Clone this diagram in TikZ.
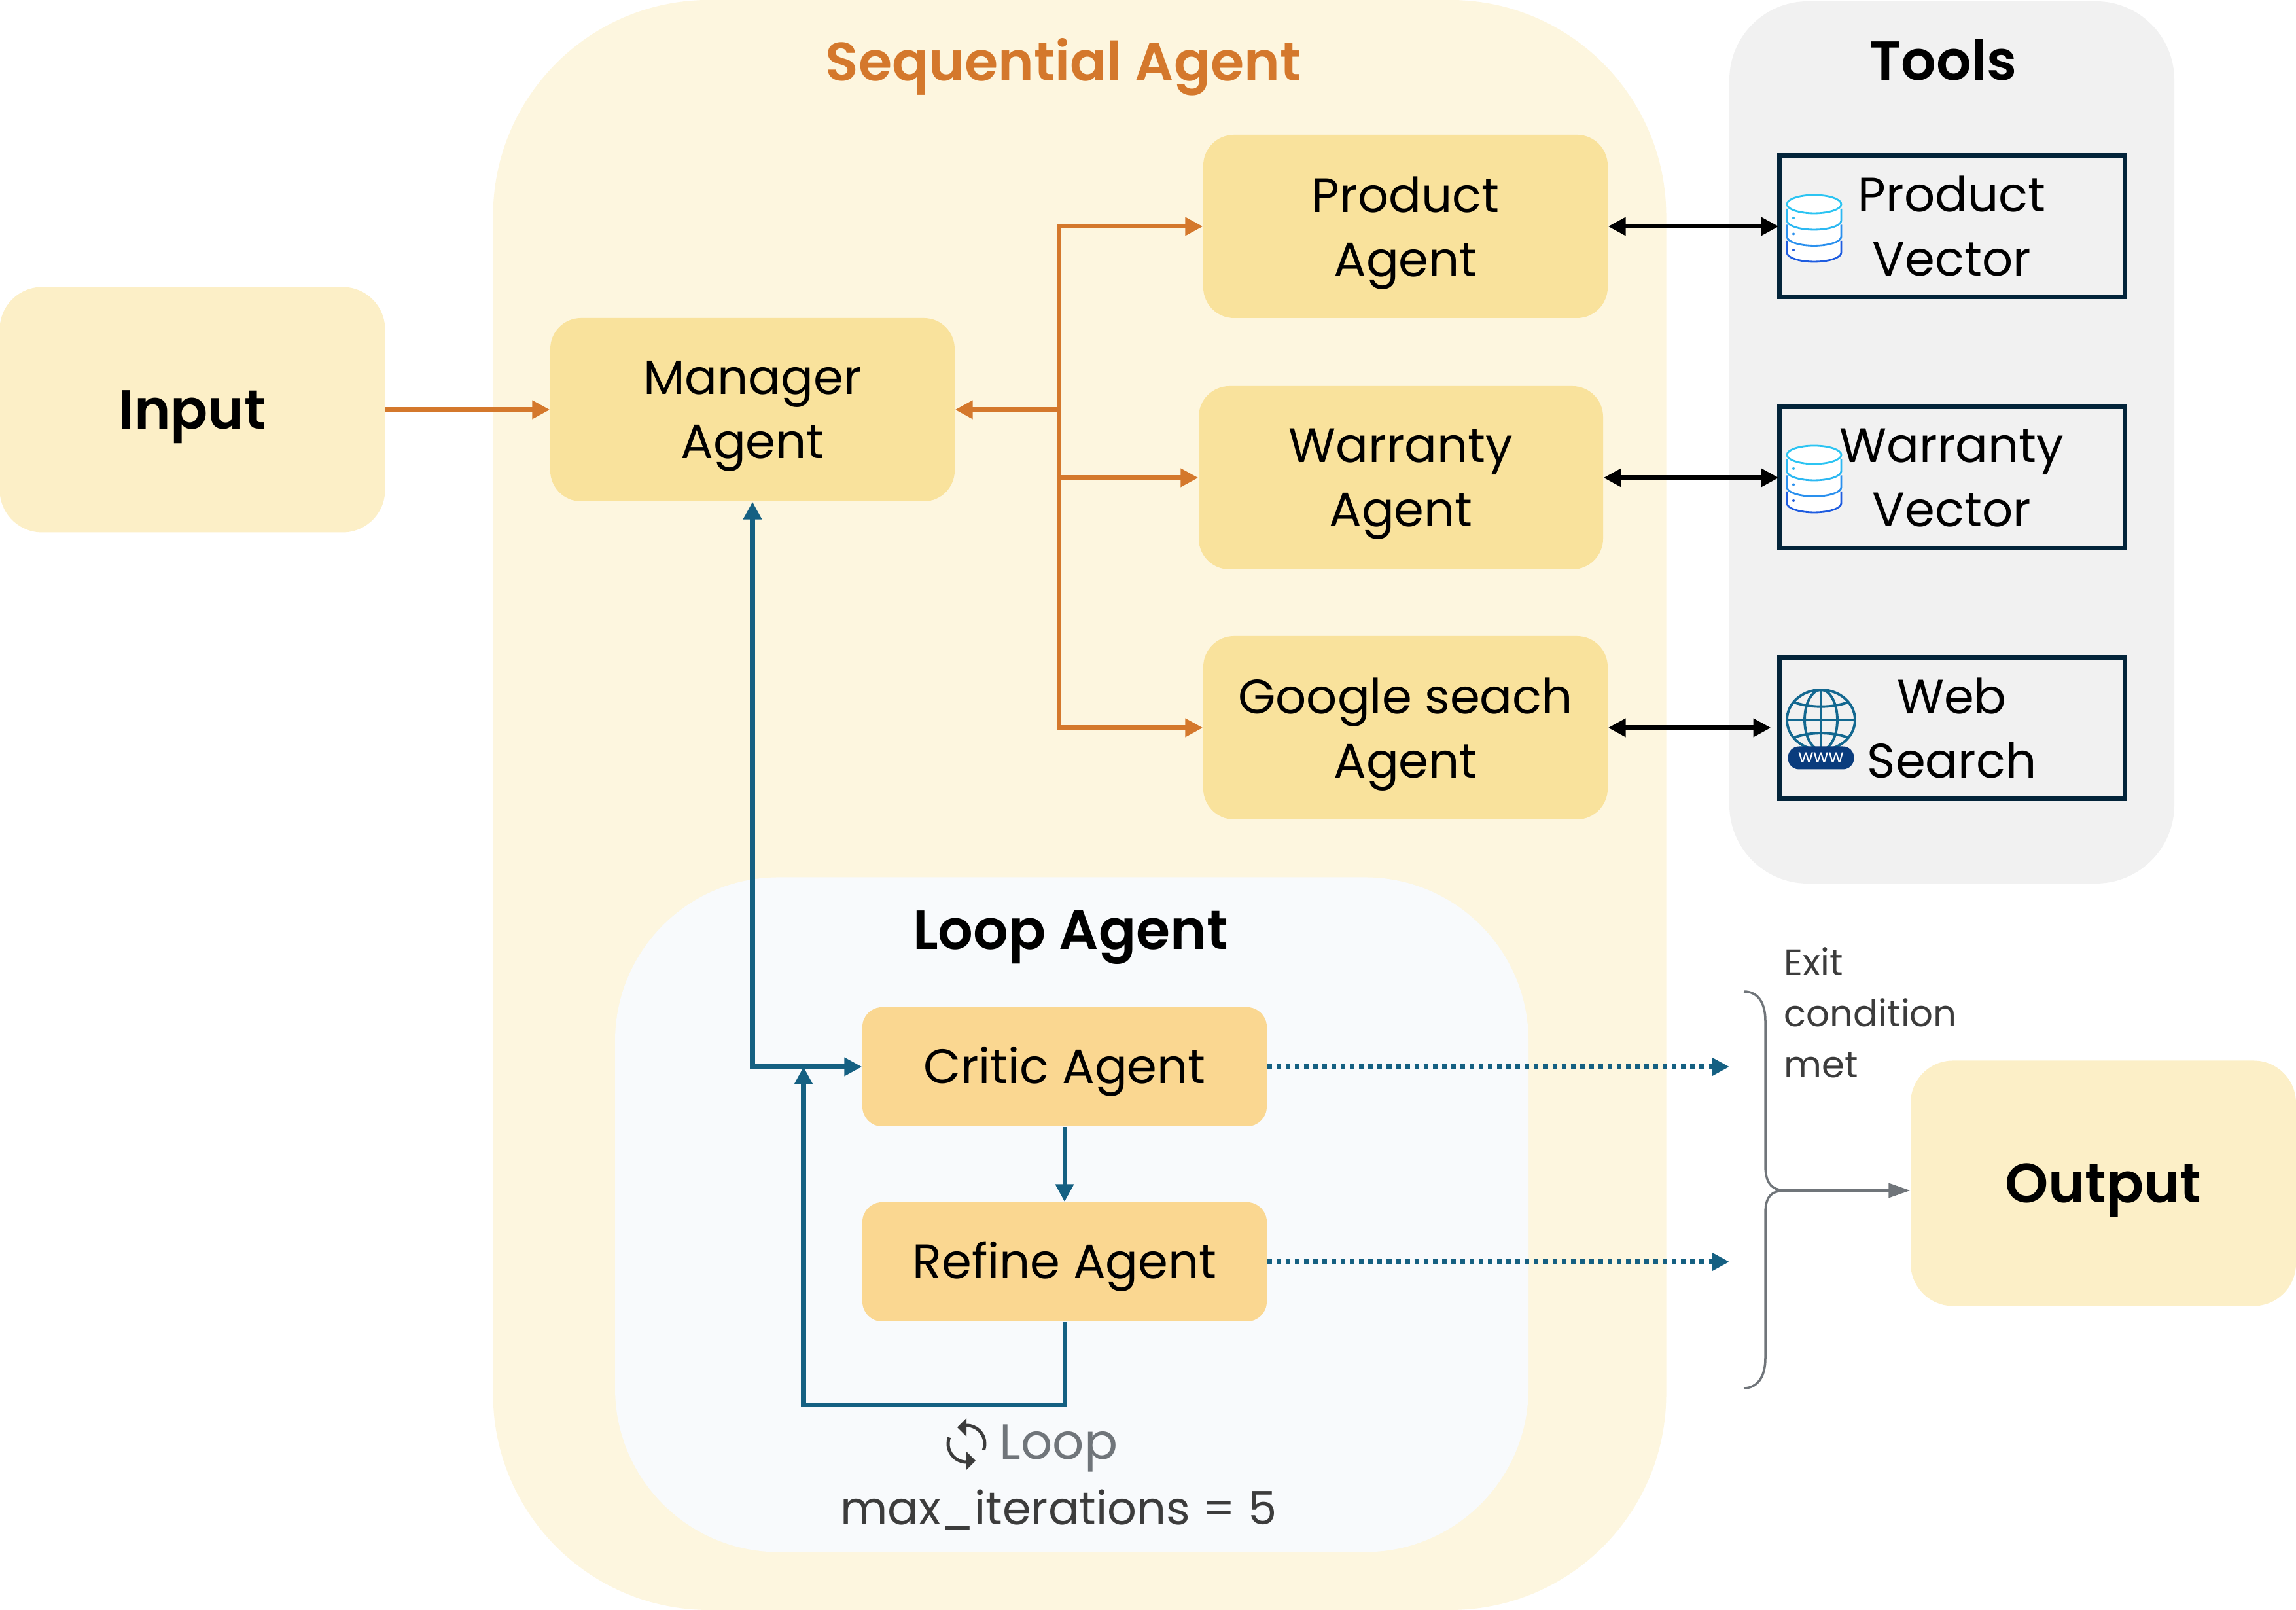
\documentclass[tikz,border=0pt]{standalone}
\usepackage{fontspec}
\setmainfont[BoldFont={Poppins SemiBold}]{Poppins}
\usepackage{xcolor}
\usetikzlibrary{arrows.meta,positioning,shapes.geometric}

\definecolor{seqfill}{HTML}{FDF6DF}
\definecolor{toolsfill}{HTML}{F1F1F1}
\definecolor{loopfill}{HTML}{F8FAFC}
\definecolor{iofill}{HTML}{FCEFC7}
\definecolor{agentfill}{HTML}{F9E29C}
\definecolor{loopagentfill}{HTML}{FAD791}
\definecolor{orangeline}{HTML}{D4782C}
\definecolor{blueline}{HTML}{156082}
\definecolor{vectorline}{HTML}{03243A}
\definecolor{greyline}{HTML}{70757A}
\definecolor{darktext}{HTML}{3C3C3C}
\definecolor{globeblue}{HTML}{136890}
\definecolor{pillblue}{HTML}{0A3C7D}

% one stacked database icon, at the given coordinate
\newcommand{\dbicon}[1]{%
  \foreach \ly/\lc in {-0.245/1E5CE0, 0/2A90EE, 0.245/2CB8F2} {
    \definecolor{layercolor}{HTML}{\lc}
    \draw[line width=0.8pt, layercolor, fill=white]
      ([shift={(-0.415,\ly+0.055)}]#1) -- ([shift={(-0.415,\ly-0.125)}]#1)
      arc (180:360:0.415 and 0.14) -- ([shift={(0.415,\ly+0.055)}]#1);
    \fill[layercolor] ([shift={(-0.315,\ly-0.085)}]#1) circle (0.02);
  }
  \definecolor{layercolor}{HTML}{2CC4F2}
  \draw[line width=0.8pt, layercolor, fill=white] ([shift={(0,0.37)}]#1) ellipse (0.415 and 0.14);
}

\begin{document}
\begin{tikzpicture}[
      >={Triangle[length=0.27cm,width=0.27cm]},
      panel/.style={
        rounded corners=1.2cm,
        inner sep=0pt
      },
      iobox/.style={
        rounded corners=0.65cm,
        fill=iofill,
        minimum width=5.89cm,
        minimum height=3.75cm,
        text depth=0pt,
        font=\fontsize{24}{28}\selectfont\bfseries
      },
      agent/.style={
        rounded corners=0.47cm,
        fill=agentfill,
        minimum width=6.18cm,
        minimum height=2.8cm,
        align=center,
        text depth=0pt,
        font=\fontsize{21}{27.9}\selectfont
      },
      loopstep/.style={
        agent,
        rounded corners=0.3cm,
        fill=loopagentfill,
        minimum height=1.82cm,
        text depth=0.05cm
      },
      vector/.style={
        draw=vectorline,
        line width=2pt,
        minimum width=5.28cm,
        minimum height=2.16cm,
        inner sep=0pt,
        align=center,
        font=\fontsize{21}{27.9}\selectfont
      },
      heading/.style={text depth=0pt, font=\fontsize{24}{28}\selectfont\bfseries},
      orangearrow/.style={->, line width=2pt, orangeline},
      bluearrow/.style={->, line width=2pt, blueline},
      blackarrow/.style={<->, line width=2pt, black},
      exitarrow/.style={->, line width=2pt, blueline, dash pattern=on 2pt off 2pt},
      bracket/.style={line width=1pt, greyline}
    ]
      \path[use as bounding box] (0,0) rectangle (35.09,24.6);

      % Panels
      \node[panel, rounded corners=3.3cm, fill=seqfill, minimum width=17.93cm, minimum height=24.6cm] (sequential) at (16.5,12.3) {};
      \node[panel, fill=toolsfill, minimum width=6.8cm, minimum height=13.48cm] (tools) at (29.83,17.84) {};
      \node[panel, rounded corners=2.5cm, fill=loopfill, minimum width=13.96cm, minimum height=10.31cm] (looppanel) at (16.38,6.04) {};

      % Titles
      \node[heading, text=orangeline, font=\fontsize{23.6}{28}\selectfont\bfseries] (seqtitle) at (16.25,23.69) {Sequential Agent};
      \node[heading] (toolstitle) at (29.7,23.69) {Tools};
      \node[heading] (looptitle) at (16.36,10.39) {Loop Agent};

      % Input and output
      \node[iobox] (input) at (2.94,18.34) {Input};
      \node[iobox] (output) at (32.145,6.52) {Output};

      % Agents
      \node[agent] (manager) at (11.5,18.34) {Manager\\Agent};
      \node[agent] (product) at (21.48,21.14) {Product\\Agent};
      \node[agent] (warranty) at (21.41,17.3) {Warranty\\Agent};
      \node[agent] (google) at (21.48,13.48) {Google seach\\Agent};
      \node[loopstep] (critic) at (16.27,8.3) {Critic Agent};
      \node[loopstep] (refine) at (16.27,5.32) {Refine Agent};

      % Vector stores and search
      \node[vector] (prodvec) at (29.83,21.14) {Product\\Vector};
      \node[vector] (warrvec) at (29.83,17.3) {Warranty\\Vector};
      \node[vector] (websearch) at (29.83,13.47) {Web\\Search};

      % Icons
      \coordinate (prodicon) at (27.725,21.11);
      \coordinate (warricon) at (27.725,17.28);
      \dbicon{prodicon}
      \dbicon{warricon}
      \coordinate (globe) at (27.83,13.6);
      \begin{scope}[shift={(globe)}, globeblue, line width=1.1pt]
        \draw (0,0) ellipse (0.52 and 0.46);
        \draw (0,0) ellipse (0.25 and 0.46);
        \draw (0,-0.46) -- (0,0.46);
        \draw (-0.52,0) -- (0.52,0);
        \draw (-0.42,0.27) .. controls (-0.15,0.18) and (0.15,0.18) .. (0.42,0.27);
        \draw (-0.42,-0.27) .. controls (-0.15,-0.18) and (0.15,-0.18) .. (0.42,-0.27);
      \end{scope}
      \node[fill=pillblue, text=white, rounded corners=0.17cm, minimum width=1.01cm, minimum height=0.35cm, inner sep=0pt, font=\fontsize{8}{8}\selectfont] (wwwpill) at (27.83,13.02) {www};

      % Orange connections
      \coordinate (orangehub) at (16.18,18.34);
      \draw[orangearrow] (input.east) -- (manager.west);
      \draw[orangearrow] (orangehub) -- (manager.east);
      \draw[orangearrow] (orangehub) |- (product.west);
      \draw[orangearrow] (orangehub) |- (warranty.west);
      \draw[orangearrow] (orangehub) |- (google.west);

      % Black connections
      \draw[blackarrow] (product.east) -- ([xshift=0.03cm]prodvec.west);
      \draw[blackarrow] (warranty.east) -- ([xshift=0.03cm]warrvec.west);
      \draw[blackarrow] (google.east) -- ([xshift=-0.09cm]websearch.west |- google.east);

      % Blue connections
      \coordinate (loopleft) at (12.28,3.13);
      \draw[bluearrow, <->] (manager.south) |- (critic.west);
      \draw[bluearrow] (critic.south) -- (refine.north);
      \draw[bluearrow] (refine.south) |- (loopleft) -- (loopleft |- critic.west);

      % Dotted exits
      \coordinate (criticexit) at (26.43,8.3);
      \coordinate (refineexit) at (26.43,5.32);
      \draw[exitarrow] (critic.east) -- (criticexit);
      \draw[exitarrow] (refine.east) -- (refineexit);

      % Brace towards output
      \coordinate (bracetip) at (27.3,6.41);
      \draw[bracket] (26.65,9.45) .. controls (26.85,9.45) and (26.98,9.3) .. (26.98,9.0) -- (26.98,6.8) .. controls (26.98,6.55) and (27.05,6.41) .. (bracetip) .. controls (27.05,6.41) and (26.98,6.3) .. (26.98,6.05) -- (26.98,3.85) .. controls (26.98,3.55) and (26.85,3.39) .. (26.65,3.39);
      \draw[->, line width=1pt, greyline, >={Triangle[length=0.33cm,width=0.22cm]}] (bracetip) -- (bracetip -| output.west);
      \node[anchor=west, inner sep=0pt, align=left, text=darktext, font=\fontsize{16}{22.2}\selectfont] (exitlabel) at (27.26,9.13) {Exit\\condition\\met};

      % Loop caption
      \node[text=greyline, font=\fontsize{21.5}{24}\selectfont] (looplabel) at (16.18,2.47) {Loop};
      \node[text=darktext, font=\fontsize{20}{24}\selectfont] (maxiter) at (16.18,1.53) {max\_iterations = 5};
      \coordinate (loopicon) at (14.77,2.54);
      \begin{scope}[shift={(loopicon)}, darktext]
        \draw[line width=1.4pt] (-20:0.28) arc (-20:90:0.28);
        \draw[line width=1.4pt] (160:0.28) arc (160:270:0.28);
        \fill (-0.14,0.25) -- (0,0.39) -- (0,0.11) -- cycle;
        \fill (0.14,-0.26) -- (0,-0.4) -- (0,-0.12) -- cycle;
      \end{scope}
    \end{tikzpicture}
\end{document}
